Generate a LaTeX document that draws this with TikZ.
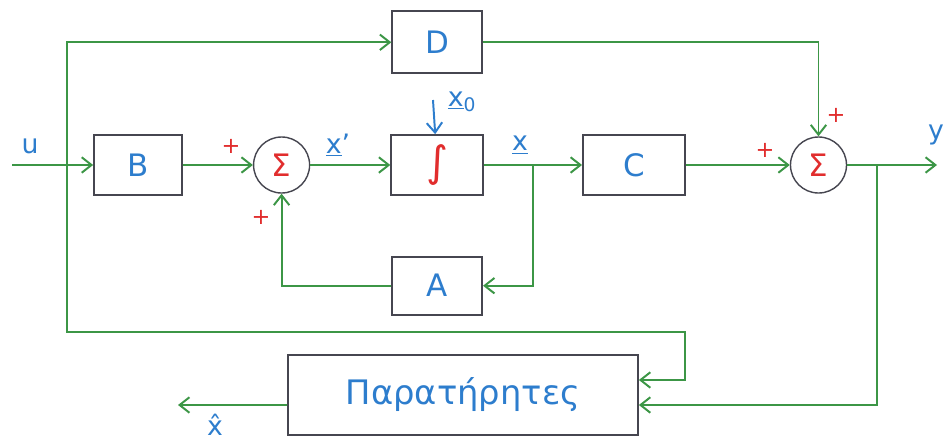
\documentclass[tikz,border=0pt]{standalone}
\usepackage{fontspec}
\setmainfont{DejaVu Sans}
\usepackage{tikz}
\usetikzlibrary{positioning,arrows.meta,calc}
\usepackage{xcolor}
\definecolor{wiregreen}{RGB}{60,150,70}
\definecolor{inkblue}{RGB}{45,125,205}
\definecolor{inkred}{RGB}{225,45,45}
\definecolor{boxgray}{RGB}{70,70,80}

\begin{document}
\begin{tikzpicture}[
    x=0.025cm, y=-0.025cm,
    block/.style={rectangle, draw=boxgray, line width=1.2pt, minimum height=1.5cm, text=inkblue, font=\fontsize{22}{24}\selectfont},
    sumnode/.style={circle, draw=boxgray, line width=1pt, minimum size=1.4cm, inner sep=0pt, text=inkred, font=\fontsize{22}{24}\selectfont},
    arrow/.style={-{Straight Barb[length=7pt,width=11pt]}, draw=wiregreen, line width=1.4pt},
    sig/.style={text=inkblue, font=\fontsize{19}{22}\selectfont},
    plus/.style={text=inkred, font=\fontsize{16}{18}\selectfont, inner sep=0pt}
]
    \useasboundingbox (0,0) rectangle (948,441);

    % Forward path
    \node[block, minimum width=2.2cm] (B) at (138,165) {B};
    \node[sumnode, right=1.75cm of B] (s1) {Σ};
    \node[block, minimum width=2.3cm, text=inkred, right=2cm of s1] (int) {\fontsize{30}{32}\selectfont ∫};
    \node[block, minimum width=2.55cm, right=2.45cm of int] (C) {C};
    \node[sumnode, right=2.6cm of C] (s2) {Σ};

    % Feedthrough and feedback
    \node[block, minimum width=2.25cm, minimum height=1.55cm, above=1.5cm of int] (D) {D};
    \node[block, minimum width=2.25cm, minimum height=1.45cm, below=1.5cm of int] (A) {A};

    % Observer
    \node[block, minimum width=8.75cm, minimum height=2cm, font=\fontsize{24}{26}\selectfont] (obs) at (463,395) {Παρατήρητες};

    % Branch points and free ends
    \coordinate (uin) at (12,165);
    \coordinate (ubr) at (67,165);
    \coordinate (uturn) at (685,332);
    \coordinate (xbr) at (533,165);
    \coordinate (ybr) at (877,165);
    \coordinate (yout) at (937,165);
    \coordinate (x0) at (433,100);
    \coordinate (xhout) at (178,405);

    % Signal labels
    \node[sig] (ulab) at (30,146) {u};
    \node[sig] (xdlab) at (338,145) {\underline{x}'};
    \node[sig] (x0lab) at (462,102) {\underline{x}\textsubscript{0}};
    \node[sig] (xlab) at (520,145) {\underline{x}};
    \node[sig] (ylab) at (936,135) {y};
    \node[sig] (xhlab) at (215,425) {x̂};

    % Signs
    \node[plus] (p1) at (231,146) {+};
    \node[plus] (p2) at (261,217) {+};
    \node[plus] (p3) at (765,150) {+};
    \node[plus] (p4) at (836,115) {+};

    % Edges
    \draw[arrow] (uin) -- (B);
    \draw[arrow] (ubr) |- (D);
    \draw[arrow] (ubr) |- (uturn) |- ([yshift=0.375cm]obs.east);
    \draw[arrow] (B) -- (s1);
    \draw[arrow] (s1) -- (int);
    \draw[arrow] (int) -- (C);
    \draw[arrow] (xbr) |- (A);
    \draw[arrow] (A) -| (s1);
    \draw[arrow] (C) -- (s2);
    \draw[arrow] (D) -| (s2);
    \draw[arrow] (s2) -- (yout);
    \draw[arrow] (ybr) |- ([yshift=-0.25cm]obs.east);
    \draw[arrow] ([yshift=-0.25cm]obs.west) -- (xhout);
    \draw[arrow, draw=inkblue] (x0) -- (int);
\end{tikzpicture}
\end{document}
